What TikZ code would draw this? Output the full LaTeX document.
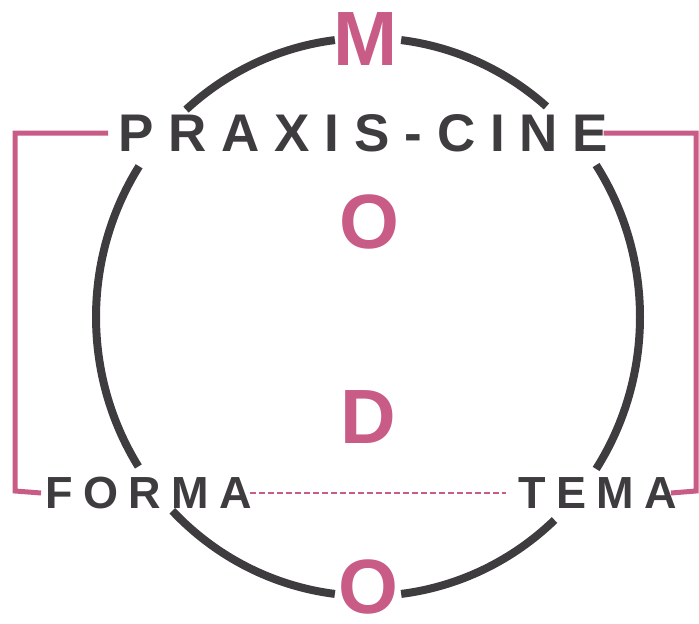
\documentclass[tikz,border=0pt]{standalone}
\usepackage{fontspec}
\setmainfont{Liberation Sans}
\newfontfamily\praxisfont{Liberation Sans}[LetterSpace=28]
\newfontfamily\labelfont{Liberation Sans}[LetterSpace=23]
\definecolor{modopink}{RGB}{200,92,134}
\definecolor{modogray}{RGB}{62,60,63}
\tikzset{
  ring/.style={modogray, line width=8pt},
  bracket/.style={modopink, line width=5pt},
  bigletter/.style={modopink, font={\fontsize{77}{77}\selectfont\bfseries}, inner sep=0pt},
  title/.style={modogray, font={\praxisfont\fontsize{53}{53}\selectfont\bfseries}, inner sep=0pt, inner xsep=10pt},
  pole/.style={modogray, font={\labelfont\fontsize{45}{45}\selectfont\bfseries}, inner sep=0pt, inner xsep=4pt},
}
\begin{document}
\begin{tikzpicture}[x=1pt, y=-1pt]
  \useasboundingbox (0,0) rectangle (699,624);
  \coordinate (c) at (368,317);
  % broken ring
  \foreach \a/\b in {228/263, 277/311, -33/33, 46.7/83, 97/136, 147.6/212.7}
    \draw[ring] (c) ++(\a:272 and 279) arc[start angle=\a, end angle=\b, x radius=272, y radius=279];
  \node[bigletter] (m) at (366,39) {M};
  \node[bigletter] (o1) at (369,222) {O};
  \node[bigletter] (d) at (368,417) {D};
  \node[bigletter] (o2) at (368,587) {O};
  \node[title, anchor=west] (pc) at (108,133) {PRAXIS-CINE\kern-0.28em};
  \node[pole, anchor=west] (forma) at (41,493) {FORMA\kern-0.23em};
  \node[pole, anchor=east] (tema) at (671,493) {TEMA\kern-0.23em};
  \draw[modopink, line width=1.8pt, dash pattern=on 6pt off 3pt, shorten <=5pt, shorten >=8pt] (forma) -- (tema);
  \draw[bracket] (pc.west) -| (15,491) -- (forma.west);
  \draw[bracket] (pc.east) -| (696,491) -- (tema.east);
\end{tikzpicture}
\end{document}
